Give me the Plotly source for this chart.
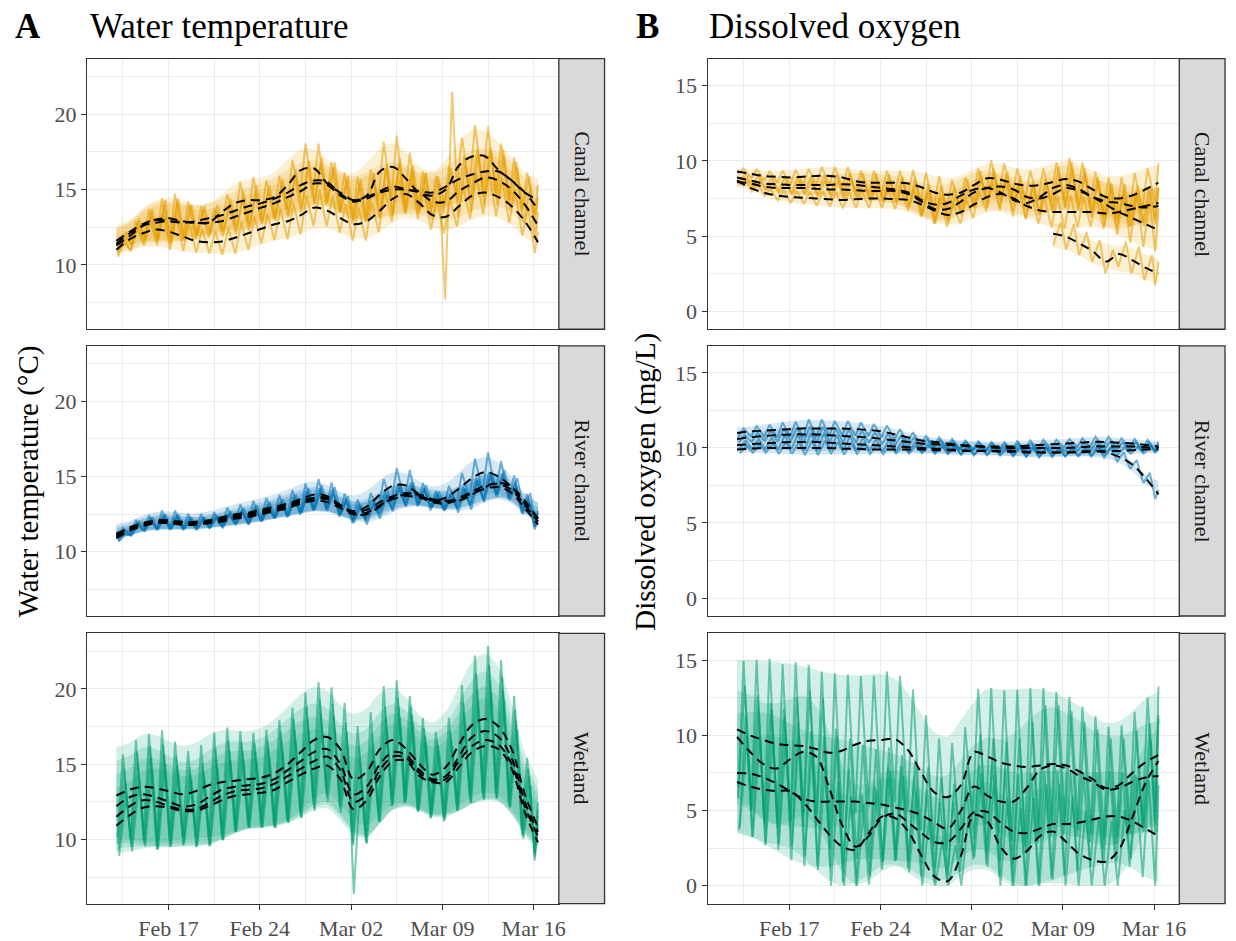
import numpy as np
import pandas as pd
import plotly.graph_objects as go

# ---------------- data ----------------
DATE_START = "2020-02-13"
N_DAYS = 33
TICK_DATES = ["2020-02-17", "2020-02-24", "2020-03-02", "2020-03-09", "2020-03-16"]
TICK_LABELS = ["Feb 17", "Feb 24", "Mar 02", "Mar 09", "Mar 16"]
MINOR_DATES = ["2020-02-13 12:00", "2020-02-20 12:00", "2020-02-27 12:00",
               "2020-03-05 12:00", "2020-03-12 12:00"]
SITES = ["Canal channel", "River channel", "Wetland"]

# Water temperature, canal (daily smoothed value per sensor)
CT1 = [11.3,11.9,12.6,13.0,13.1,12.9,12.8,12.8,13.5,14.1,14.3,14.3,14.5,15.3,16.3,16.4,15.4,14.8,14.3,14.6,16.2,16.5,15.7,14.8,14.6,15.0,16.6,17.2,17.2,16.3,15.6,14.8,14.3]
CT2 = [11.0,11.7,12.1,12.35,12.2,11.9,11.6,11.5,11.55,11.8,12.1,12.4,12.7,12.9,13.3,13.8,13.6,13.1,12.7,12.9,13.6,14.4,14.7,14.1,13.3,13.2,13.9,14.6,14.8,14.5,13.9,12.9,11.5]
CT3 = [11.4,12.1,12.6,12.8,12.9,12.85,12.8,12.8,12.9,13.2,13.5,13.8,14.1,14.5,14.9,15.4,15.3,14.6,14.2,14.4,14.8,15.0,15.0,14.9,14.8,15.2,15.7,16.0,16.2,16.2,15.6,14.8,13.7]
CT4 = [11.6,12.2,12.7,13.0,12.9,12.8,12.9,13.1,13.3,13.6,13.9,14.1,14.4,14.8,15.3,15.6,15.5,14.7,14.3,14.5,14.9,15.2,15.0,14.8,14.2,14.2,14.9,15.4,15.8,15.6,15.0,14.0,12.6]
CT_AMP = [0.6,0.9,1.0,1.3,1.5,1.2,1.0,0.9,1.1,1.3,1.4,1.2,1.3,1.5,1.6,1.5,1.3,1.2,1.4,1.6,1.8,1.9,1.6,1.3,1.2,1.4,1.7,1.9,1.8,1.6,1.4,1.2,0.9]
CT_SCALE = [1.1, 0.8, 0.9, 1.0]

# Water temperature, river
RT1 = [11.2,11.6,11.9,12.1,12.1,12.0,12.0,12.1,12.3,12.5,12.6,12.8,13.0,13.2,13.5,13.8,13.7,13.1,12.7,13.0,13.8,14.4,14.4,13.8,13.4,13.6,14.2,14.9,15.3,15.0,14.3,13.2,12.2]
RT2 = [11.0,11.5,11.8,12.0,12.0,11.9,11.9,12.0,12.1,12.3,12.4,12.6,12.8,13.0,13.3,13.5,13.5,13.0,12.6,12.8,13.3,13.7,13.9,13.7,13.4,13.3,13.6,14.0,14.4,14.5,14.1,13.1,12.0]
RT3 = [10.9,11.4,11.7,11.9,11.9,11.8,11.8,11.9,12.0,12.2,12.3,12.5,12.7,12.9,13.2,13.4,13.3,12.9,12.5,12.6,13.1,13.5,13.7,13.6,13.3,13.2,13.5,13.9,14.2,14.3,13.9,12.9,11.8]
RT4 = [11.1,11.6,11.9,12.0,12.0,11.9,11.9,12.0,12.2,12.4,12.5,12.7,12.9,13.1,13.4,13.6,13.6,13.1,12.5,12.5,13.0,13.6,13.8,13.8,13.5,13.4,13.4,13.8,14.3,14.6,14.3,13.4,12.2]
RT_AMP = [0.3,0.4,0.4,0.5,0.5,0.4,0.4,0.4,0.5,0.5,0.6,0.6,0.6,0.7,0.8,0.8,0.7,0.6,0.6,0.7,0.8,0.9,0.8,0.6,0.5,0.6,0.8,1.0,1.0,0.8,0.6,0.5,0.4]
RT_SCALE = [1.3, 0.9, 0.8, 1.0]

# Water temperature, wetland
WT1 = [12.9,13.3,13.5,13.4,13.2,13.0,13.2,13.6,13.8,13.9,14.0,14.1,14.4,15.0,15.8,16.6,16.8,16.0,14.0,14.5,16.0,16.6,16.0,15.0,14.3,14.8,16.3,17.6,18.0,17.5,16.0,13.0,10.8]
WT2 = [12.2,12.8,13.0,12.8,12.5,12.2,12.3,12.8,13.3,13.5,13.6,13.7,14.0,14.6,15.2,15.8,16.0,15.0,13.0,13.5,15.0,15.8,15.6,14.6,14.0,14.2,15.5,16.8,17.2,16.8,15.4,12.5,10.5]
WT3 = [11.5,12.2,12.6,12.5,12.2,12.0,12.0,12.4,12.9,13.2,13.3,13.4,13.7,14.2,14.7,15.2,15.5,14.6,12.5,13.0,14.6,15.5,15.4,14.4,13.9,14.0,15.2,16.2,16.6,16.3,15.0,12.2,10.2]
WT4 = [10.9,11.6,12.1,12.2,12.1,11.9,11.9,12.2,12.6,12.9,13.0,13.1,13.3,13.8,14.3,14.7,14.9,14.0,12.0,12.6,14.2,15.2,15.2,14.2,13.8,13.8,14.8,15.8,16.2,16.0,14.7,11.8,9.8]
WT_AMP = [2.5,3.0,3.2,3.5,3.0,2.6,2.8,3.2,3.3,3.0,2.8,2.9,3.2,3.4,3.6,3.5,3.0,2.8,3.2,3.6,3.8,3.6,3.2,2.8,2.6,3.0,3.6,4.2,4.4,4.0,3.2,2.2,1.5]
WT_SCALE = [1.1, 1.0, 0.9, 0.8]

# Dissolved oxygen, canal
CD1 = [9.3,9.15,9.0,8.95,8.9,8.95,9.0,9.0,8.9,8.65,8.55,8.55,8.55,8.5,8.25,7.9,7.75,7.9,8.4,8.85,8.75,8.5,8.35,8.4,8.6,8.8,8.6,8.1,7.6,7.5,7.7,8.1,8.55]
CD2 = [8.7,8.2,7.9,7.7,7.6,7.55,7.5,7.45,7.4,7.45,7.5,7.5,7.45,7.4,7.1,6.7,6.4,6.6,7.1,7.6,7.8,7.5,7.0,6.7,6.6,6.6,6.6,6.6,6.5,6.6,6.8,7.0,7.2]
CD3 = [8.9,8.7,8.5,8.45,8.4,8.4,8.4,8.4,8.45,8.4,8.3,8.2,8.1,7.9,7.4,7.1,7.2,7.7,8.1,8.2,7.9,7.4,7.2,7.6,8.2,8.4,8.1,7.6,7.1,6.6,6.2,5.8,5.4]
CD4 = [8.6,8.5,8.3,8.2,8.2,8.2,8.15,8.1,8.1,8.05,8.0,8.0,8.0,7.8,7.3,6.8,6.8,7.3,7.9,8.2,8.3,8.1,7.6,7.5,7.8,8.2,8.0,7.6,7.3,7.2,7.0,6.9,7.0]
CD5 = [None]*24 + [5.15,4.95,4.5,4.0,3.3,3.8,3.4,2.9,2.5]
CD_AMP = [0.2,0.3,0.3,0.4,0.5,0.5,0.6,0.6,0.7,0.7,0.8,0.8,0.8,0.9,1.0,1.1,1.0,1.0,1.1,1.2,1.1,1.0,1.0,1.1,1.3,1.4,1.3,1.2,1.3,1.4,1.5,1.4,1.3]
CD_SCALE = [1.0, 0.8, 1.1, 0.9, 0.6]

# Dissolved oxygen, river
RD1 = [11.0,11.1,11.15,11.2,11.25,11.3,11.3,11.3,11.3,11.25,11.2,11.1,10.9,10.7,10.5,10.4,10.3,10.2,10.15,10.1,10.1,10.1,10.15,10.2,10.25,10.3,10.35,10.4,10.4,10.35,10.3,10.2,10.1]
RD2 = [10.6,10.7,10.8,10.85,10.9,10.9,10.9,10.85,10.8,10.75,10.7,10.6,10.5,10.4,10.3,10.25,10.2,10.15,10.1,10.05,10.0,10.0,10.0,10.0,10.0,10.0,10.05,10.1,10.1,10.1,10.1,10.05,10.0]
RD3 = [10.2,10.25,10.3,10.35,10.4,10.4,10.4,10.35,10.3,10.25,10.2,10.15,10.1,10.05,10.0,9.95,9.9,9.85,9.8,9.8,9.8,9.8,9.75,9.7,9.7,9.7,9.75,9.8,9.7,9.4,8.9,8.0,6.9]
RD4 = [9.9,9.95,10.0,10.0,10.0,10.0,10.0,10.0,9.95,9.95,9.9,9.9,9.9,9.9,9.9,9.85,9.85,9.8,9.8,9.8,9.75,9.75,9.7,9.7,9.7,9.7,9.7,9.75,9.8,9.8,9.85,9.9,9.9]
RD_AMP = [0.3,0.35,0.4,0.5,0.5,0.6,0.6,0.5,0.5,0.45,0.4,0.4,0.35,0.35,0.3,0.3,0.3,0.3,0.3,0.3,0.3,0.35,0.35,0.35,0.3,0.3,0.3,0.35,0.35,0.3,0.3,0.35,0.3]
RD_SCALE = [1.0, 0.9, 1.0, 0.8]

# Dissolved oxygen, wetland
WD1 = [10.4,10.0,9.7,9.45,9.35,9.3,9.1,8.85,9.0,9.4,9.65,9.7,9.75,9.0,7.5,6.2,5.9,6.7,8.9,8.6,8.2,8.0,7.9,8.0,8.1,8.0,7.6,7.1,6.5,6.7,7.5,8.2,8.7]
WD2 = [9.9,8.9,8.1,7.8,8.4,8.9,8.6,6.5,4.0,2.6,3.3,4.5,4.8,4.2,3.5,2.9,2.9,3.8,4.9,4.9,4.2,3.6,3.5,3.8,4.1,4.1,4.2,4.4,4.6,4.6,4.3,3.8,3.3]
WD3 = [7.5,7.45,7.2,6.8,6.3,5.8,5.6,5.6,5.6,5.6,5.5,5.4,5.2,5.0,4.7,4.2,3.8,5.0,6.6,6.0,5.6,5.6,6.5,7.7,8.0,7.8,7.3,6.9,6.4,6.5,6.9,7.2,7.3]
WD4 = [6.9,6.6,6.4,6.3,6.3,5.6,4.5,3.4,2.6,2.4,3.5,4.6,4.5,3.6,2.0,0.6,0.3,2.0,4.7,4.3,2.6,1.8,2.3,3.3,3.6,2.9,2.1,1.7,1.6,2.4,4.5,6.8,8.3]
WD_AMP = [3.8,4.2,4.5,4.4,4.6,4.5,4.3,4.4,4.2,3.8,3.6,3.8,3.5,3.4,3.2,3.0,3.0,3.2,3.5,3.8,4.0,4.2,4.4,4.3,4.0,3.8,3.6,3.5,3.4,3.3,3.4,3.6,3.8]
WD_SCALE = [1.2, 0.9, 1.0, 0.8]

# isolated sensor spikes: (sensor index, day index, high value, low value)
CT_SPIKE = (3, 25, 21.5, 7.7)
WT_SPIKE = (3, 18, None, 6.4)

# ---------------- styling ----------------
FONT = "Liberation Serif"
ORANGE = (230, 159, 0)
BLUE = (0, 114, 178)
GREEN = (0, 158, 115)
W, H = 1236, 941

def rgba(c, a):
    return f"rgba({c[0]},{c[1]},{c[2]},{a})"

X_RANGE = ["2020-02-10 17:55", "2020-03-17 22:19"]
A_RANGE = [5.73, 23.69]
B_RANGE = [-1.2, 16.8]

COL_X = [(87.5, 562.0), (711.7, 1186.0)]
STRIP_X = [(562.0, 608.0), (1186.0, 1232.0)]
ROW_Y = [(59.0, 331.0), (347.7, 619.3), (636.7, 908.5)]

days = pd.date_range(DATE_START, periods=N_DAYS, freq="D")
smooth_t = days + pd.to_timedelta(np.linspace(0, 8, N_DAYS), unit="h")

panels = [
    # (col, row, sensors, amp, scales, color, spike, clip0)
    (0, 0, [CT1, CT2, CT3, CT4], CT_AMP, CT_SCALE, ORANGE, CT_SPIKE, False),
    (0, 1, [RT1, RT2, RT3, RT4], RT_AMP, RT_SCALE, BLUE, None, False),
    (0, 2, [WT1, WT2, WT3, WT4], WT_AMP, WT_SCALE, GREEN, WT_SPIKE, False),
    (1, 0, [CD1, CD2, CD3, CD4, CD5], CD_AMP, CD_SCALE, ORANGE, None, True),
    (1, 1, [RD1, RD2, RD3, RD4], RD_AMP, RD_SCALE, BLUE, None, True),
    (1, 2, [WD1, WD2, WD3, WD4], WD_AMP, WD_SCALE, GREEN, None, True),
]

fig = go.Figure()
layout = {}

for i, (col, row, sensors, amp, scales, color, spike, clip0) in enumerate(panels):
    xa = "x" if i == 0 else f"x{i+1}"
    ya = "y" if i == 0 else f"y{i+1}"
    amp_a = np.array(amp, dtype=float)
    ribbons, raws, smooths = [], [], []
    for s_idx, (vals, sc) in enumerate(zip(sensors, scales)):
        mid = np.array([np.nan if v is None else v for v in vals], dtype=float)
        hi = mid + amp_a * sc
        lo = mid - amp_a * sc
        if clip0:
            lo = np.clip(lo, 0, None)
        valid = ~np.isnan(mid)
        up = pd.Series(hi).rolling(3, center=True, min_periods=1).mean().values
        dn = pd.Series(lo).rolling(3, center=True, min_periods=1).mean().values
        if clip0:
            dn = np.clip(dn, -0.1, None)
        ribbons.append((smooth_t[valid], dn[valid], up[valid]))
        rhi, rlo = hi.copy(), lo.copy()
        if spike is not None and spike[0] == s_idx:
            if spike[2] is not None:
                rhi[spike[1]] = spike[2]
            if spike[3] is not None:
                rlo[spike[1]] = spike[3]
        lo_h = 2 + s_idx
        hi_h = 12 + 2 * s_idx
        ry, rt = [], []
        for d in range(N_DAYS):
            if not valid[d]:
                continue
            if d == N_DAYS - 1:
                rt += [days[d] + pd.Timedelta(hours=2), days[d] + pd.Timedelta(hours=8)]
            else:
                rt += [days[d] + pd.Timedelta(hours=lo_h), days[d] + pd.Timedelta(hours=hi_h)]
            ry += [rlo[d], rhi[d]]
        raws.append((rt, ry))
        smooths.append((smooth_t[valid], mid[valid]))
    for t, dn, up in ribbons:
        fig.add_trace(go.Scatter(x=t, y=dn, mode="lines", line=dict(width=0, shape="spline"),
                                 xaxis=xa, yaxis=ya, showlegend=False, hoverinfo="skip"))
        fig.add_trace(go.Scatter(x=t, y=up, mode="lines", line=dict(width=0, shape="spline"),
                                 fill="tonexty", fillcolor=rgba(color, 0.17),
                                 xaxis=xa, yaxis=ya, showlegend=False, hoverinfo="skip"))
    for rt, ry in raws:
        fig.add_trace(go.Scatter(x=rt, y=ry, mode="lines",
                                 line=dict(color=rgba(color, 0.55), width=2),
                                 xaxis=xa, yaxis=ya, showlegend=False))
    for t, m in smooths:
        fig.add_trace(go.Scatter(x=t, y=m, mode="lines",
                                 line=dict(color="black", width=2, dash="9px,6px", shape="spline"),
                                 xaxis=xa, yaxis=ya, showlegend=False))

    x0, x1 = COL_X[col]
    yt, yb = ROW_Y[row]
    bottom = row == 2
    layout["xaxis" if i == 0 else f"xaxis{i+1}"] = dict(
        type="date", range=X_RANGE, domain=[x0 / W, x1 / W], anchor=ya,
        tickmode="array", tickvals=TICK_DATES, ticktext=TICK_LABELS,
        showticklabels=bottom, ticks="outside" if bottom else "", ticklen=5,
        tickcolor="#333333", tickwidth=1.1,
        tickfont=dict(family=FONT, size=22, color="#4D4D4D"),
        showgrid=True, gridcolor="#EBEBEB", gridwidth=1.3,
        minor=dict(tickmode="array", tickvals=MINOR_DATES, showgrid=True,
                   gridcolor="#EBEBEB", gridwidth=0.7, ticks=""),
        showline=True, mirror=True, linecolor="#333333", linewidth=1.3,
        zeroline=False, fixedrange=True,
    )
    if col == 0:
        yr, yticks, yminor = A_RANGE, [10, 15, 20], [7.5, 12.5, 17.5, 22.5]
    else:
        yr, yticks, yminor = B_RANGE, [0, 5, 10, 15], [2.5, 7.5, 12.5]
    layout["yaxis" if i == 0 else f"yaxis{i+1}"] = dict(
        range=yr, domain=[1 - yb / H, 1 - yt / H], anchor=xa,
        tickmode="array", tickvals=yticks, ticks="outside", ticklen=5,
        tickcolor="#333333", tickwidth=1.1,
        tickfont=dict(family=FONT, size=22, color="#4D4D4D"),
        showgrid=True, gridcolor="#EBEBEB", gridwidth=1.3,
        minor=dict(tickmode="array", tickvals=yminor, showgrid=True,
                   gridcolor="#EBEBEB", gridwidth=0.7, ticks=""),
        showline=True, mirror=True, linecolor="#333333", linewidth=1.3,
        zeroline=False, fixedrange=True,
    )

shapes, annotations = [], []
for col in range(2):
    sx0, sx1 = STRIP_X[col]
    for row in range(3):
        yt, yb = ROW_Y[row]
        shapes.append(dict(type="rect", xref="paper", yref="paper",
                           x0=sx0 / W, x1=sx1 / W, y0=1 - yb / H, y1=1 - yt / H,
                           fillcolor="#D9D9D9", line=dict(color="#333333", width=1.3),
                           layer="above"))
        annotations.append(dict(text=SITES[row], xref="paper", yref="paper",
                                x=(sx0 + sx1) / 2 / W, y=1 - (yt + yb) / 2 / H,
                                xanchor="center", yanchor="middle",
                                textangle=90, showarrow=False,
                                font=dict(family=FONT, size=22, color="#1A1A1A")))

annotations += [
    dict(text="<b>A</b>", x=13 / W, y=1 - 26.5 / H, xref="paper", yref="paper",
         xanchor="left", yanchor="middle", showarrow=False,
         font=dict(family=FONT, size=35, color="black")),
    dict(text="Water temperature", x=88 / W, y=1 - 26.5 / H, xref="paper", yref="paper",
         xanchor="left", yanchor="middle", showarrow=False,
         font=dict(family=FONT, size=35, color="black")),
    dict(text="<b>B</b>", x=638 / W, y=1 - 26.5 / H, xref="paper", yref="paper",
         xanchor="left", yanchor="middle", showarrow=False,
         font=dict(family=FONT, size=35, color="black")),
    dict(text="Dissolved oxygen", x=711 / W, y=1 - 26.5 / H, xref="paper", yref="paper",
         xanchor="left", yanchor="middle", showarrow=False,
         font=dict(family=FONT, size=35, color="black")),
    dict(text="Water temperature (°C)", x=29 / W, y=1 - 484 / H, xref="paper", yref="paper",
         textangle=-90, showarrow=False, xanchor="center", yanchor="middle",
         font=dict(family=FONT, size=29, color="black")),
    dict(text="Dissolved oxygen (mg/L)", x=649 / W, y=1 - 484 / H, xref="paper", yref="paper",
         textangle=-90, showarrow=False, xanchor="center", yanchor="middle",
         font=dict(family=FONT, size=29, color="black")),
]

fig.update_layout(
    width=W, height=H, margin=dict(l=0, r=0, t=0, b=0),
    paper_bgcolor="white", plot_bgcolor="white",
    showlegend=False, shapes=shapes, annotations=annotations,
    font=dict(family=FONT), **layout,
)

fig.write_html("out.html")
